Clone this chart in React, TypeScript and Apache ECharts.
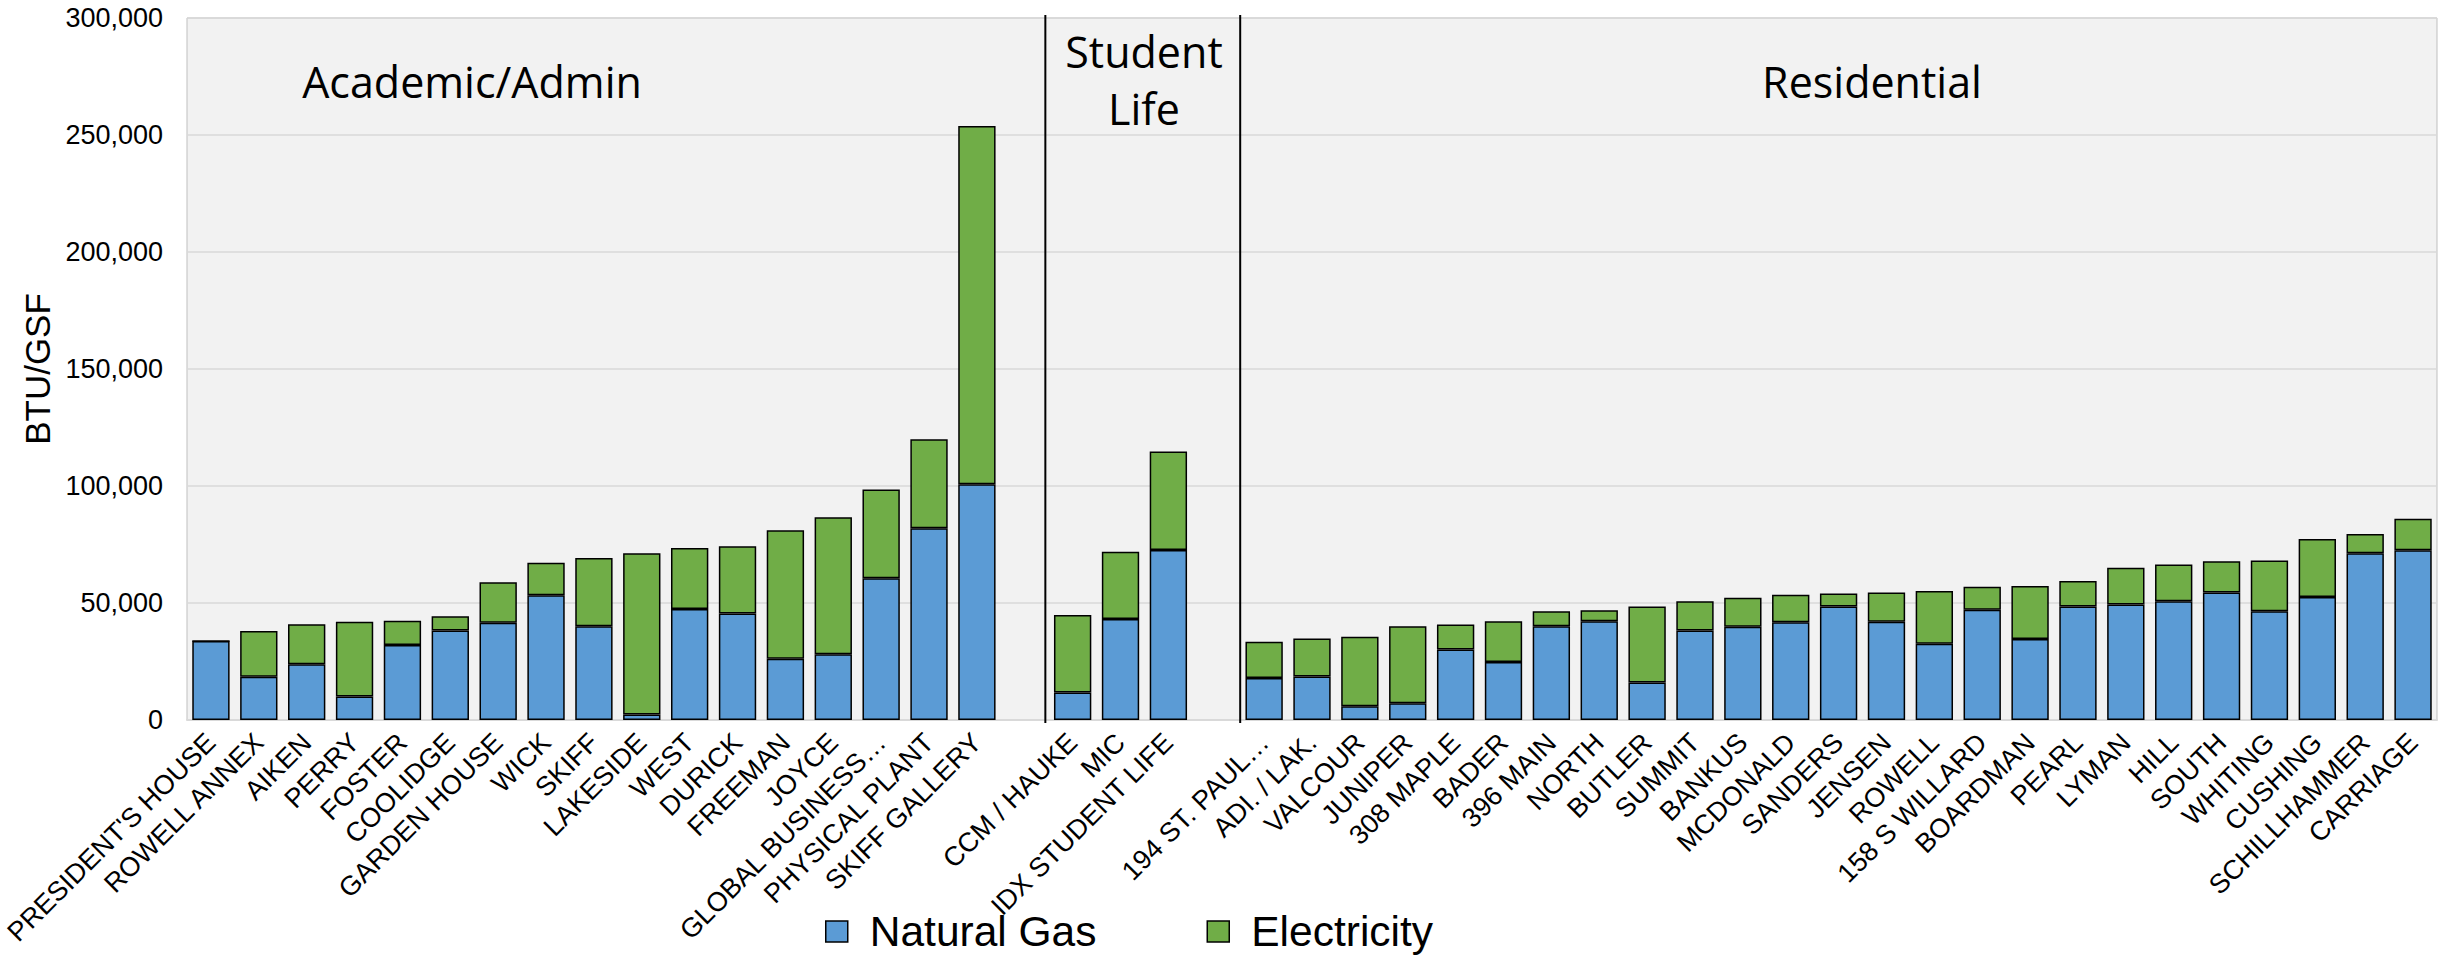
import React, { useEffect, useRef } from "react";
import * as echarts from "echarts";

const categories = [
  "PRESIDENT'S HOUSE", "ROWELL ANNEX", "AIKEN", "PERRY", "FOSTER", "COOLIDGE", "GARDEN HOUSE",
  "WICK", "SKIFF", "LAKESIDE", "WEST", "DURICK", "FREEMAN", "JOYCE", "GLOBAL BUSINESS…",
  "PHYSICAL PLANT", "SKIFF GALLERY", " ",
  "CCM / HAUKE", "MIC", "IDX STUDENT LIFE", "  ",
  "194 ST. PAUL…", "ADI. / LAK.", "VALCOUR", "JUNIPER", "308 MAPLE", "BADER", "396 MAIN",
  "NORTH", "BUTLER", "SUMMIT", "BANKUS", "MCDONALD", "SANDERS", "JENSEN", "ROWELL",
  "158 S WILLARD", "BOARDMAN", "PEARL", "LYMAN", "HILL", "SOUTH", "WHITING", "CUSHING",
  "SCHILLHAMMER", "CARRIAGE",
];

const naturalGas = [
  33800, 18500, 23800, 10000, 32100, 38300, 41600, 53300, 40100, 2300, 47400, 45500, 26200,
  28100, 60600, 81900, 100800, null,
  11700, 43200, 72700, null,
  18000, 18600, 5900, 7200, 30100, 24800, 40100, 42200, 16000, 38300, 39900, 41800, 48500,
  42000, 32600, 47100, 34600, 48500, 49400, 50800, 54500, 46500, 52600, 71300, 72500,
];

const electricity = [
  0, 19500, 17100, 32000, 10300, 6000, 17300, 13900, 29100, 69000, 26100, 28800, 54900,
  58500, 37900, 38100, 153000, null,
  33200, 28700, 42000, null,
  15400, 16200, 29700, 32900, 10700, 17400, 6400, 4700, 32500, 12500, 12300, 11700, 5600,
  12500, 22500, 9800, 22700, 10900, 15700, 15600, 13300, 21700, 24800, 8200, 13500,
];

const seriesNames = ["Natural Gas", "Electricity"];
const seriesColors = ["#5B9BD5", "#70AD47"];
const groupLabels = ["Academic/Admin", "Student\nLife", "Residential"];
const yMin = 0;
const yMax = 300000;
const yInterval = 50000;
const yAxisTitle = "BTU/GSF";

const AXIS_FONT = "'Liberation Sans', Arial, sans-serif";
const NOTE_FONT = "'Open Sans', 'Noto Sans', sans-serif";

export default function App() {
  const ref = useRef<HTMLDivElement>(null);

  useEffect(() => {
    document.body.style.margin = "0";
    if (!ref.current) return;
    const chart = echarts.init(ref.current, null, { renderer: "svg" });

    const option: any = {
      animation: false,
      backgroundColor: "#ffffff",
      grid: {
        left: 187,
        right: 9,
        top: 18,
        bottom: 239,
        show: true,
        backgroundColor: "#F2F2F2",
        borderColor: "#BFBFBF",
        borderWidth: 1,
      },
      legend: {
        data: seriesNames,
        left: 825,
        top: 910,
        itemWidth: 22,
        itemHeight: 21,
        itemGap: 110,
        padding: 0,
        icon: "rect",
        itemStyle: { borderColor: "#000", borderWidth: 1.5 },
        textStyle: {
          fontFamily: AXIS_FONT,
          fontSize: 42.5,
          color: "#000",
          padding: [0, 0, 0, 17],
        },
      },
      xAxis: {
        type: "category",
        data: categories,
        axisTick: { show: false },
        axisLine: { lineStyle: { color: "#D9D9D9", width: 2 } },
        axisLabel: {
          interval: 0,
          rotate: 45,
          margin: 18,
          fontFamily: AXIS_FONT,
          fontSize: 27,
          color: "#000",
        },
      },
      yAxis: {
        type: "value",
        min: yMin,
        max: yMax,
        interval: yInterval,
        name: yAxisTitle,
        nameLocation: "middle",
        nameRotate: 90,
        nameGap: 132,
        nameTextStyle: { fontFamily: AXIS_FONT, fontSize: 35, color: "#000" },
        axisLine: { show: false },
        axisTick: { show: false },
        splitLine: { lineStyle: { color: "#D9D9D9", width: 1.5 } },
        axisLabel: {
          margin: 24,
          fontFamily: AXIS_FONT,
          fontSize: 27,
          color: "#000",
          formatter: (v: number) => v.toLocaleString("en-US"),
        },
      },
      series: [
        {
          name: seriesNames[0],
          type: "bar",
          stack: "total",
          barCategoryGap: "22%",
          data: naturalGas,
          itemStyle: { color: seriesColors[0], borderColor: "#000", borderWidth: 1.5 },
        },
        {
          name: seriesNames[1],
          type: "bar",
          stack: "total",
          barCategoryGap: "22%",
          data: electricity,
          itemStyle: { color: seriesColors[1], borderColor: "#000", borderWidth: 1.5 },
        },
      ],
    };
    chart.setOption(option);

    const px = (i: number) => chart.convertToPixel({ xAxisIndex: 0 }, i) as number;
    const sep1 = px(17) + 0.43 * (px(18) - px(17));
    const sep2 = (px(21) + px(22)) / 2;
    const textStyle = (text: string) => ({
      text,
      fill: "#000",
      fontFamily: NOTE_FONT,
      fontSize: 43,
      lineHeight: 57,
      align: "center",
      verticalAlign: "middle",
    });

    chart.setOption({
      graphic: [
        { id: "sep1", type: "line", shape: { x1: sep1, y1: 15, x2: sep1, y2: 723 }, style: { stroke: "#000", lineWidth: 2 }, z: 10 },
        { id: "sep2", type: "line", shape: { x1: sep2, y1: 15, x2: sep2, y2: 723 }, style: { stroke: "#000", lineWidth: 2 }, z: 10 },
        { id: "g1", type: "text", x: 472, y: 81, style: textStyle(groupLabels[0]), z: 10 },
        { id: "g2", type: "text", x: 1144, y: 80, style: textStyle(groupLabels[1]), z: 10 },
        { id: "g3", type: "text", x: 1872, y: 81, style: textStyle(groupLabels[2]), z: 10 },
      ],
    });

    return () => chart.dispose();
  }, []);

  return <div ref={ref} style={{ width: 2446, height: 959 }} />;
}
